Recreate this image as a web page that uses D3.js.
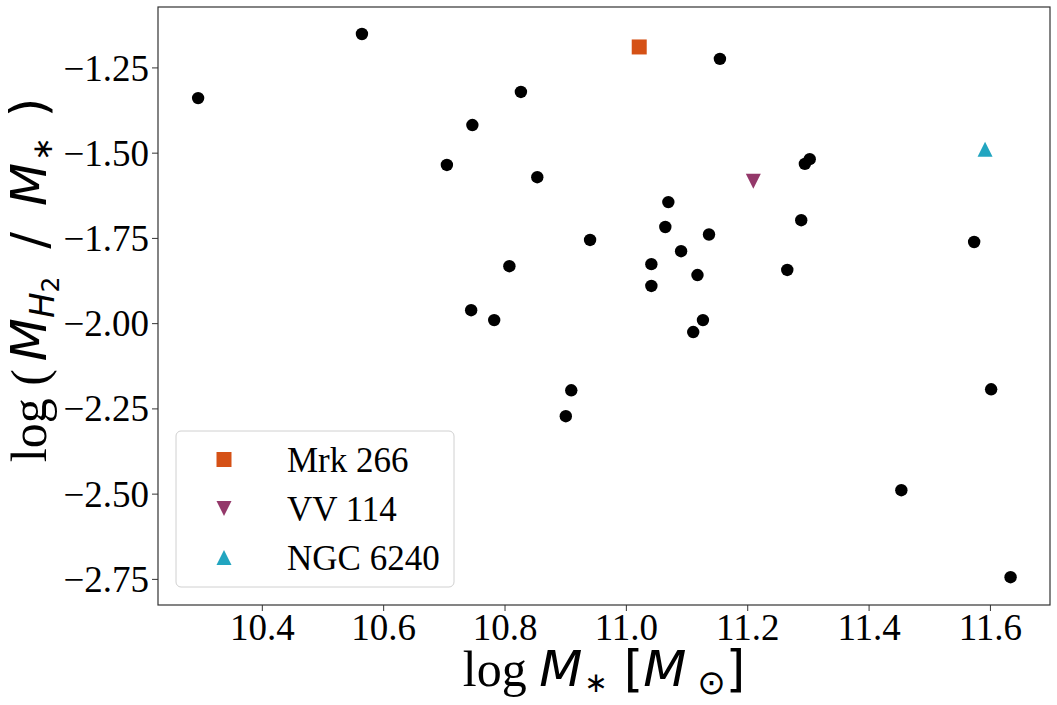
<!DOCTYPE html>
<html>
<head>
<meta charset="utf-8">
<script src="https://cdn.jsdelivr.net/npm/d3@7"></script>
<style>
  body { margin: 0; background: #fff; }
  svg { display: block; }
  .tick text { font-family: "Liberation Serif", "Times New Roman", serif; font-size: 37px; fill: #000; }
</style>
</head>
<body>
<div id="chart"></div>
<script>
// sample galaxies: log stellar mass and log gas fraction
const logMstar = [10.295, 10.565, 10.705, 10.747, 10.827, 10.854, 10.745, 10.783, 10.808, 10.941,
                  10.901, 10.910, 11.042, 11.042, 11.065, 11.070, 11.091, 11.118, 11.111, 11.127,
                  11.137, 11.155, 11.266, 11.289, 11.295, 11.303, 11.454, 11.574, 11.602, 11.634];
const logFgas = [-1.340, -1.152, -1.536, -1.419, -1.322, -1.572, -1.962, -1.991, -1.833, -1.756,
                 -2.273, -2.197, -1.827, -1.891, -1.718, -1.645, -1.789, -1.859, -2.026, -1.991,
                 -1.740, -1.225, -1.844, -1.698, -1.533, -1.519, -2.490, -1.762, -2.194, -2.745];

// highlighted objects
const specialNames = ['Mrk 266', 'VV 114', 'NGC 6240'];
const specialMstar = [11.022, 11.210, 11.592];
const specialFgas = [-1.190, -1.584, -1.490];
const specialShapes = ['square', 'down', 'up'];
const specialColors = ['#D55116', '#94386A', '#22A5C0'];

const xTicks = [10.4, 10.6, 10.8, 11.0, 11.2, 11.4, 11.6];
const yTicks = [-1.25, -1.5, -1.75, -2.0, -2.25, -2.5, -2.75];

const W = 1057, H = 705;
const margin = {left: 158, top: 7, right: 7, bottom: 100};
const w = W - margin.left - margin.right;
const h = H - margin.top - margin.bottom;

const svg = d3.select('#chart').append('svg')
    .attr('width', W)
    .attr('height', H);

const g = svg.append('g')
    .attr('transform', `translate(${margin.left},${margin.top})`);

const x = d3.scaleLinear().domain([10.2289, 11.699]).range([0, w]);
const y = d3.scaleLinear().domain([-2.8266, -1.0728]).range([h, 0]);

const markerPath = (shape, s) => {
    const a = s / 2;
    if (shape === 'square') return `M${-a},${-a}H${a}V${a}H${-a}Z`;
    if (shape === 'down') return `M0,${a}L${-a},${-a}L${a},${-a}Z`;
    return `M0,${-a}L${-a},${a}L${a},${a}Z`;
};

// axes
const xAxis = g.append('g')
    .attr('transform', `translate(0,${h})`)
    .call(d3.axisBottom(x).tickValues(xTicks).tickFormat(d3.format('.1f')).tickSize(6).tickPadding(3));
const yAxis = g.append('g')
    .call(d3.axisLeft(y).tickValues(yTicks).tickFormat(d => d3.format('.2f')(d).replace('-', '\u2212')).tickSize(6).tickPadding(3));
[xAxis, yAxis].forEach(a => {
    a.select('.domain').remove();
    a.selectAll('.tick line').attr('stroke', '#333').attr('stroke-width', 1);
});
xAxis.selectAll('.tick text').attr('dy', '0.71em');
yAxis.selectAll('.tick text').attr('dy', '0.34em');

g.append('rect')
    .attr('width', w).attr('height', h)
    .attr('fill', 'none').attr('stroke', '#333').attr('stroke-width', 1.2);

// points
g.selectAll('circle.pt')
    .data(logMstar.map((m, i) => [m, logFgas[i]]))
    .enter()
    .append('circle')
    .attr('class', 'pt')
    .attr('cx', d => x(d[0]))
    .attr('cy', d => y(d[1]))
    .attr('r', 6.2)
    .attr('fill', '#000');

g.selectAll('path.special')
    .data(specialNames.map((n, i) => ({name: n, m: specialMstar[i], f: specialFgas[i], shape: specialShapes[i], color: specialColors[i]})))
    .enter()
    .append('path')
    .attr('class', 'special')
    .attr('transform', d => `translate(${x(d.m)},${y(d.f)})`)
    .attr('d', d => markerPath(d.shape, 15))
    .attr('fill', d => d.color);

// legend
const leg = svg.append('g').attr('transform', 'translate(176,431)');
leg.append('rect')
    .attr('width', 278).attr('height', 156)
    .attr('rx', 5)
    .attr('fill', '#fff').attr('fill-opacity', 0.8)
    .attr('stroke', '#d0d0d0').attr('stroke-width', 1);
specialNames.forEach((n, i) => {
    const row = leg.append('g').attr('transform', `translate(0,${28.5 + i * 49})`);
    row.append('path')
        .attr('transform', 'translate(48,0)')
        .attr('d', markerPath(specialShapes[i], 15))
        .attr('fill', specialColors[i]);
    row.append('text')
        .attr('x', 111).attr('y', 12)
        .attr('font-family', '"Liberation Serif", "Times New Roman", serif')
        .attr('font-size', 35)
        .text(n);
});

// axis labels
const serif = '"Liberation Serif", "Times New Roman", serif';
const sans = '"DejaVu Sans", sans-serif';

const xl = svg.append('text')
    .attr('x', margin.left + w / 2).attr('y', 686)
    .attr('text-anchor', 'middle')
    .attr('font-size', 50);
xl.append('tspan').attr('font-family', serif).text('log ');
xl.append('tspan').attr('font-family', sans).attr('font-style', 'italic').text('M');
xl.append('tspan').attr('font-family', sans).attr('font-size', 28).attr('dx', 2).attr('dy', 6).text('\u2217');
xl.append('tspan').attr('font-family', sans).attr('dy', -6).text(' [');
xl.append('tspan').attr('font-family', sans).attr('font-style', 'italic').text('M');
xl.append('tspan').attr('font-family', sans).attr('font-size', 34).attr('dy', 8).text(' \u2299');
xl.append('tspan').attr('font-family', sans).attr('dy', -8).text(']');

const yl = svg.append('text')
    .attr('transform', `translate(46,${margin.top + h / 2 - 26}) rotate(-90)`)
    .attr('text-anchor', 'middle')
    .attr('font-size', 50);
yl.append('tspan').attr('font-family', serif).text('log (');
yl.append('tspan').attr('font-family', sans).attr('font-style', 'italic').attr('dx', 8).text('M');
yl.append('tspan').attr('font-family', sans).attr('font-style', 'italic').attr('font-size', 34).attr('dy', 8).text('H');
yl.append('tspan').attr('font-family', sans).attr('font-size', 25).attr('dy', 5).text('2');
yl.append('tspan').attr('font-family', sans).attr('dx', 12).attr('dy', -13).text(' / ');
yl.append('tspan').attr('font-family', sans).attr('font-style', 'italic').attr('dx', 10).text('M');
yl.append('tspan').attr('font-family', sans).attr('font-size', 28).attr('dx', 2).attr('dy', 6).text('\u2217');
yl.append('tspan').attr('font-family', sans).attr('dx', 20).attr('dy', -6).text(')');
</script>
</body>
</html>
